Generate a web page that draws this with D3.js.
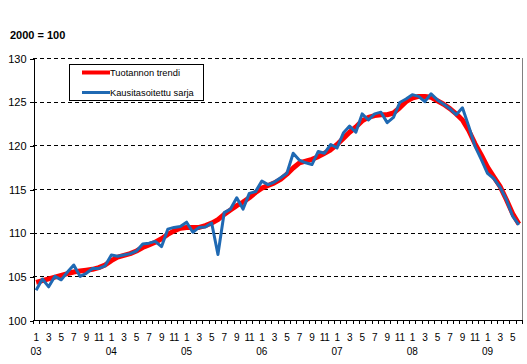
<!DOCTYPE html>
<html lang="fi">
<head>
<meta charset="utf-8">
<title>Tuotannon trendi</title>
<script src="https://cdn.jsdelivr.net/npm/d3@7"></script>
<style>
  body { margin: 0; background: #fff; }
  text { font-family: "Liberation Sans", Arial, sans-serif; fill: #000; }
</style>
</head>
<body>
<script>
// years and months on the category axis (Jan 2003 .. Jun 2009)
var years = ["03", "04", "05", "06", "07", "08", "09"];
var monthNums = [1, 2, 3, 4, 5, 6, 7, 8, 9, 10, 11, 12];
var nMonths = 78;

// seasonally adjusted series
var sarja = [
  103.4, 104.7, 103.8, 105.0, 104.6, 105.5, 106.3, 105.0, 105.35, 105.9, 105.9, 106.2,
  107.45, 107.3, 107.45, 107.6, 107.9, 108.7, 108.8, 109.0, 108.4, 110.4, 110.6, 110.7,
  111.2, 110.05, 110.6, 110.65, 111.1, 107.5, 112.3, 112.7, 114.0, 112.7, 114.5, 114.7,
  115.9, 115.5, 115.8, 116.3, 116.8, 119.1, 118.3, 118.0, 117.8, 119.3, 119.1, 120.1,
  119.7, 121.4, 122.2, 121.5, 123.6, 122.9, 123.6, 123.8, 122.6, 123.2, 124.9, 125.3,
  125.8, 125.6, 125.0, 125.9, 125.2, 124.7, 124.2, 123.5, 124.3, 122.2, 119.9, 118.4,
  116.8, 116.2, 115.2, 113.8, 111.9, 110.9
];

// production trend
var trendi = [
  104.3, 104.5, 104.7, 104.9, 105.1, 105.3, 105.5, 105.6, 105.7, 105.8, 106.0, 106.3,
  106.8, 107.2, 107.4, 107.6, 107.9, 108.3, 108.6, 108.9, 109.3, 109.8, 110.2, 110.5,
  110.6, 110.6, 110.6, 110.8, 111.1, 111.5, 112.1, 112.6, 113.1, 113.5, 114.0, 114.6,
  115.1, 115.4, 115.7, 116.1, 116.7, 117.4, 118.0, 118.2, 118.4, 118.7, 119.1, 119.5,
  120.1, 120.8, 121.5, 122.1, 122.8, 123.2, 123.4, 123.5, 123.5, 123.7, 124.3, 125.0,
  125.4, 125.6, 125.6, 125.5, 125.1, 124.7, 124.2, 123.6, 122.9, 121.7, 120.2, 118.9,
  117.5, 116.4, 115.3, 113.8, 112.2, 111.0
];

var yTicks = [100, 105, 110, 115, 120, 125, 130];
var legendLabels = ["Tuotannon trendi", "Kausitasoitettu sarja"];
var colors = ["#ff0000", "#1f69b3"];

var width = 527, height = 364;
var plotL = 33, plotR = 522, plotT = 58, plotB = 320;

var svg = d3.select("body").append("svg")
  .attr("width", width)
  .attr("height", height);

var idx = d3.range(nMonths);
var x = d3.scaleBand().domain(idx).range([plotL, plotR]).padding(0);
var y = d3.scaleLinear().domain([100, 130]).range([plotB, plotT]);
var cx = function(i) { return x(i) + x.bandwidth() / 2; };

// right edge of the plot area (grey)
svg.append("line")
  .attr("x1", plotR + 0.5).attr("x2", plotR + 0.5)
  .attr("y1", plotT).attr("y2", plotB)
  .attr("stroke", "#808080")
  .attr("shape-rendering", "crispEdges");

// dashed gridlines
svg.append("g").selectAll("line")
  .data(yTicks.slice(1))
  .enter().append("line")
    .attr("x1", plotL).attr("x2", plotR)
    .attr("y1", function(d) { return Math.round(y(d)) + 0.5; })
    .attr("y2", function(d) { return Math.round(y(d)) + 0.5; })
    .attr("stroke", "#000")
    .attr("stroke-dasharray", "4,3")
    .attr("shape-rendering", "crispEdges");

// y axis
var yAxis = svg.append("g")
  .attr("transform", "translate(" + (plotL + 0.5) + ",0.5)")
  .call(d3.axisLeft(y).tickValues(yTicks).tickSize(4).tickPadding(3).tickSizeOuter(0));
yAxis.selectAll("text").style("font-size", "11px");
yAxis.selectAll("line, path").attr("stroke", "#000").attr("shape-rendering", "crispEdges");

// x axis line and month boundary ticks
svg.append("line")
  .attr("x1", plotL).attr("x2", plotR + 1)
  .attr("y1", plotB + 0.5).attr("y2", plotB + 0.5)
  .attr("stroke", "#000").attr("shape-rendering", "crispEdges");

svg.append("g").selectAll("line")
  .data(d3.range(nMonths + 1))
  .enter().append("line")
    .attr("x1", function(i) { return Math.round(i < nMonths ? x(i) : plotR) + 0.5; })
    .attr("x2", function(i) { return Math.round(i < nMonths ? x(i) : plotR) + 0.5; })
    .attr("y1", plotB).attr("y2", plotB + 4)
    .attr("stroke", "#000").attr("shape-rendering", "crispEdges");

// month labels (odd months) and year labels
svg.append("g").selectAll("text")
  .data(idx.filter(function(i) { return monthNums[i % 12] % 2 === 1; }))
  .enter().append("text")
    .attr("x", cx)
    .attr("y", 341)
    .attr("text-anchor", "middle")
    .style("font-size", "10px")
    .style("letter-spacing", "-0.3px")
    .text(function(i) { return monthNums[i % 12]; });

svg.append("g").selectAll("text")
  .data(years)
  .enter().append("text")
    .attr("x", function(d, k) { return cx(k * 12); })
    .attr("y", 355)
    .attr("text-anchor", "middle")
    .style("font-size", "10px")
    .text(function(d) { return d; });

// unit title
svg.append("text")
  .attr("x", 10).attr("y", 39)
  .style("font-size", "11px")
  .style("font-weight", "bold")
  .text("2000 = 100");

// lines
var line = d3.line()
  .x(function(d, i) { return cx(i); })
  .y(function(d) { return y(d); });

svg.append("path")
  .datum(trendi)
  .attr("d", line)
  .attr("fill", "none")
  .attr("stroke", colors[0])
  .attr("stroke-width", 5)
  .attr("stroke-linejoin", "round");

svg.append("path")
  .datum(sarja)
  .attr("d", line)
  .attr("fill", "none")
  .attr("stroke", colors[1])
  .attr("stroke-width", 3)
  .attr("stroke-linejoin", "round");

// legend
var lg = svg.append("g");
lg.append("rect")
  .attr("x", 69.5).attr("y", 64.5)
  .attr("width", 134).attr("height", 36)
  .attr("fill", "#fff").attr("stroke", "#000")
  .attr("shape-rendering", "crispEdges");

legendLabels.forEach(function(lab, k) {
  var ly = 72.5 + k * 20;
  lg.append("line")
    .attr("x1", 82).attr("x2", 110)
    .attr("y1", ly).attr("y2", ly)
    .attr("stroke", colors[k])
    .attr("stroke-width", k === 0 ? 4 : 3);
  lg.append("text")
    .attr("x", 110).attr("y", ly + 3.5)
    .style("font-size", "9.3px")
    .text(lab);
});
</script>
</body>
</html>
